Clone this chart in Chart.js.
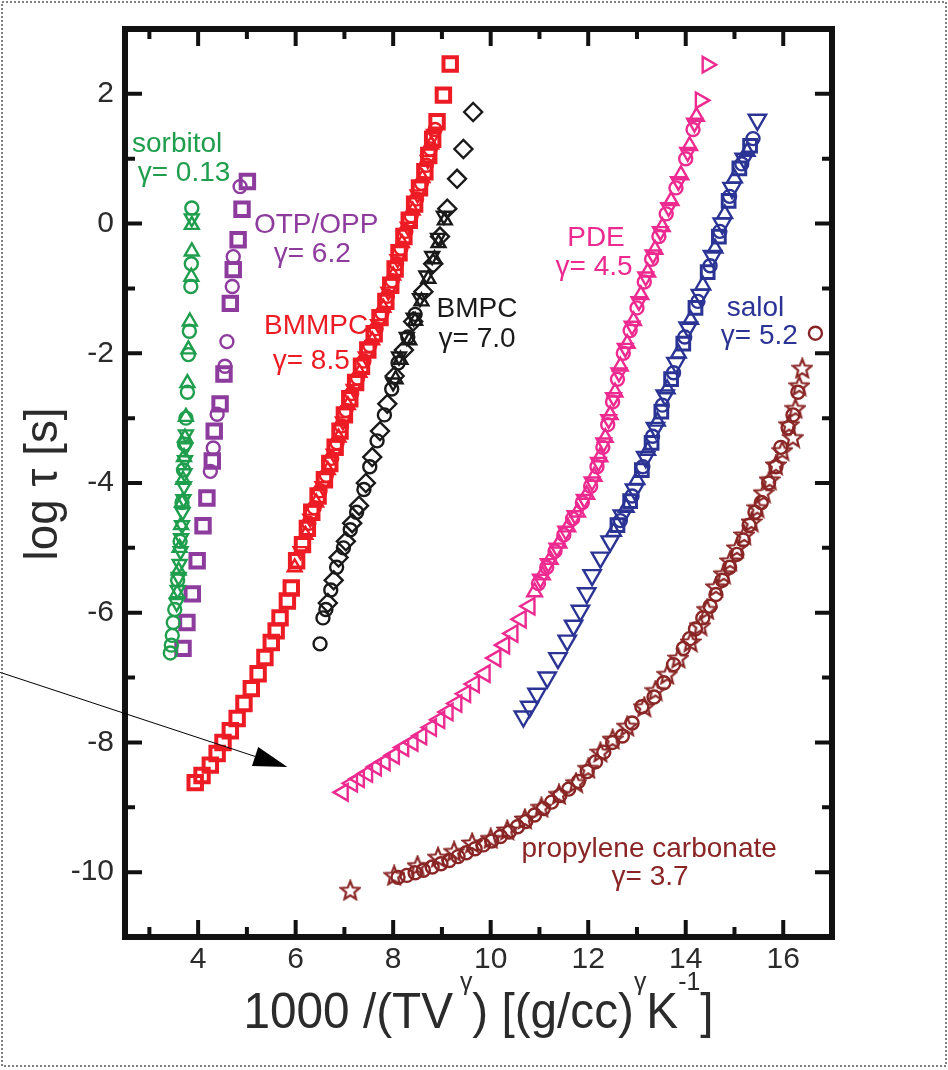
<!DOCTYPE html>
<html>
<head>
<meta charset="utf-8">
<script src="https://cdn.jsdelivr.net/npm/chart.js@4.4.0/dist/chart.umd.min.js"></script>
<style>
  html, body { margin: 0; padding: 0; background: #fff; }
  canvas { display: block; }
</style>
</head>
<body>
<canvas id="myChart" width="948" height="1070"></canvas>
<script>
// tick values
const xMajorTicks = [4, 6, 8, 10, 12, 14, 16];
const xMinorTicks = [3, 5, 7, 9, 11, 13, 15];
const yMajorTicks = [-10, -8, -6, -4, -2, 0, 2];
const yMinorTicks = [-9, -7, -5, -3, -1, 1];

// sorbitol, gamma = 0.13
const sorbitolCircles = [[3.87,0.24],[3.86,-0.62],[3.85,-0.97],[3.82,-1.66],[3.8,-2.02],[3.78,-2.6],[3.75,-3.0],[3.72,-3.4],[3.7,-3.8],[3.67,-4.3],[3.63,-4.9],[3.58,-5.5],[3.52,-5.95],[3.49,-6.15],[3.47,-6.35],[3.45,-6.5],[3.43,-6.62]];
const sorbitolUp = [[3.87,-0.02],[3.87,-0.43],[3.86,-0.82],[3.83,-1.51],[3.8,-1.94],[3.78,-2.46],[3.75,-2.98],[3.73,-3.3],[3.71,-3.6],[3.69,-3.95],[3.67,-4.3],[3.65,-4.65],[3.62,-5.0],[3.6,-5.35],[3.57,-5.7]];
const sorbitolDown = [[3.87,0.08],[3.75,-3.25],[3.74,-3.45],[3.73,-3.65],[3.72,-3.85],[3.71,-4.05],[3.7,-4.25],[3.68,-4.45],[3.67,-4.65],[3.65,-4.85],[3.64,-5.05],[3.62,-5.25],[3.6,-5.45],[3.58,-5.65],[3.56,-5.85]];

// OTP/OPP, gamma = 6.2
const otpSquares = [[5.01,0.65],[4.9,0.22],[4.82,-0.25],[4.72,-0.71],[4.66,-1.23],[4.53,-2.32],[4.45,-2.78],[4.33,-3.2],[4.29,-3.66],[4.18,-4.23],[4.1,-4.66],[3.98,-5.2],[3.88,-5.71],[3.77,-6.15],[3.69,-6.55]];
const otpCircles = [[4.86,0.57],[4.72,-0.51],[4.7,-0.97],[4.59,-1.82],[4.55,-2.2],[4.39,-2.94],[4.31,-3.46],[4.25,-3.82]];

// BMMPC, gamma = 8.5
const bmmpcSquares = [[9.17,2.46],[9.03,1.98],[8.9,1.57],[8.81,1.3],[8.73,1.05],[8.65,0.8],[8.54,0.55],[8.44,0.3],[8.33,0.05],[8.22,-0.2],[8.12,-0.45],[8.04,-0.7],[7.95,-0.95],[7.85,-1.2],[7.73,-1.45],[7.61,-1.7],[7.48,-1.95],[7.35,-2.2],[7.23,-2.45],[7.11,-2.7],[7.0,-2.95],[6.91,-3.2],[6.81,-3.45],[6.7,-3.7],[6.59,-3.95],[6.46,-4.2],[6.33,-4.45],[6.24,-4.7],[6.14,-4.95],[6.02,-5.2],[5.91,-5.62],[5.83,-5.82],[5.68,-6.08],[5.6,-6.28],[5.5,-6.46],[5.37,-6.69],[5.23,-6.94],[5.09,-7.17],[4.94,-7.4],[4.8,-7.63],[4.66,-7.82],[4.51,-8.0],[4.39,-8.17],[4.25,-8.35],[4.08,-8.51],[3.94,-8.62]];
const bmmpcCircles = [[8.86,1.45],[8.76,1.15],[8.68,0.9],[8.58,0.62],[8.48,0.38],[8.37,0.12],[8.26,-0.12],[8.16,-0.38],[8.07,-0.62],[7.98,-0.88],[7.88,-1.12],[7.77,-1.38],[7.65,-1.62],[7.52,-1.88],[7.4,-2.12],[7.27,-2.38],[7.15,-2.62],[7.03,-2.88],[6.94,-3.12],[6.85,-3.38],[6.74,-3.62],[6.63,-3.88],[6.5,-4.12],[6.38,-4.38],[6.27,-4.62]];
const bmmpcUp = [[8.78,1.22],[8.6,0.7],[8.4,0.2],[8.18,-0.3],[8.0,-0.8],[7.8,-1.3],[7.57,-1.8],[7.31,-2.3],[7.07,-2.8],[6.88,-3.3],[6.66,-3.8],[6.42,-4.3],[6.2,-4.8],[5.98,-5.3]];
const bmmpcDown = [[8.84,1.38],[8.71,0.98],[8.5,0.45],[8.3,-0.05],[8.09,-0.55],[7.9,-1.05],[7.69,-1.55],[7.44,-2.05],[7.19,-2.55],[6.97,-3.05],[6.78,-3.55],[6.55,-4.05],[6.3,-4.55],[6.1,-5.05]];

// BMPC, gamma = 7.0
const bmpcDiamonds = [[9.64,1.72],[9.44,1.15],[9.31,0.69],[9.11,0.23],[8.96,-0.2],[8.82,-0.62],[8.62,-1.05],[8.41,-1.51],[8.22,-1.95],[8.03,-2.35],[7.88,-2.78],[7.73,-3.2],[7.57,-3.6],[7.44,-4.0],[7.3,-4.35],[7.16,-4.62],[7.03,-4.9],[6.88,-5.15],[6.78,-5.5],[6.66,-5.85]];
const bmpcCircles = [[8.45,-1.4],[8.3,-1.75],[8.1,-2.15],[7.97,-2.55],[7.82,-2.95],[7.67,-3.35],[7.52,-3.75],[7.4,-4.1],[7.25,-4.45],[7.12,-4.72],[6.98,-5.0],[6.84,-5.3],[6.72,-5.65],[6.62,-5.95],[6.56,-6.08],[6.5,-6.48]];
const bmpcUp = [[9.06,0.05],[8.93,-0.3],[8.85,-0.55],[8.72,-0.85],[8.58,-1.2],[8.45,-1.5],[8.33,-1.8],[8.15,-2.1],[8.05,-2.4]];
const bmpcDown = [[9.04,0.12],[8.92,-0.22],[8.8,-0.5],[8.68,-0.8],[8.55,-1.15],[8.42,-1.45],[8.28,-1.75],[8.12,-2.05],[8.0,-2.45]];

// PDE, gamma = 4.5
const pdeRight = [[14.44,2.45],[14.3,1.9]];
const pdeCircles = [[14.15,1.45],[14.0,1.0],[13.8,0.55],[13.6,0.15],[13.45,-0.2],[13.3,-0.55],[13.15,-0.9],[13.0,-1.3],[12.86,-1.65],[12.72,-2.0],[12.6,-2.4],[12.5,-2.75],[12.4,-3.1],[12.3,-3.45],[12.18,-3.75],[12.05,-4.05],[11.88,-4.3],[11.68,-4.55],[11.5,-4.8],[11.32,-5.05],[11.15,-5.3],[10.98,-5.55]];
const pdeUp = [[14.22,1.65],[14.08,1.2],[13.9,0.75],[13.7,0.35],[13.52,-0.05],[13.37,-0.4],[13.22,-0.75],[13.08,-1.1],[12.93,-1.5],[12.8,-1.85],[12.66,-2.2],[12.55,-2.6],[12.45,-2.95],[12.35,-3.3],[12.24,-3.6],[12.12,-3.9],[11.97,-4.18],[11.78,-4.45],[11.58,-4.68],[11.4,-4.93],[11.22,-5.18],[11.06,-5.42],[10.9,-5.68]];
const pdeDown = [[14.18,1.55],[14.04,1.1],[13.85,0.65],[13.65,0.25],[13.48,-0.12],[13.33,-0.48],[13.18,-0.82],[13.04,-1.2],[12.9,-1.58],[12.76,-1.92],[12.63,-2.3],[12.52,-2.68],[12.42,-3.02],[12.32,-3.38],[12.21,-3.68],[12.08,-3.98],[11.92,-4.25],[11.73,-4.5],[11.54,-4.74],[11.36,-5.0],[11.18,-5.24],[11.02,-5.48]];
const pdeLeft = [[10.8,-5.9],[10.62,-6.1],[10.45,-6.32],[10.28,-6.5],[10.1,-6.7],[9.88,-6.94],[9.66,-7.1],[9.48,-7.25],[9.3,-7.4],[9.12,-7.53],[8.95,-7.65],[8.78,-7.77],[8.58,-7.9],[8.4,-8.0],[8.21,-8.08],[8.02,-8.2],[7.83,-8.3],[7.65,-8.38],[7.47,-8.48],[7.3,-8.56],[7.16,-8.63],[6.97,-8.77]];

// salol, gamma = 5.2
const salolDown = [[15.47,1.6],[15.2,1.0],[14.95,0.55],[14.75,0.0],[14.55,-0.5],[14.3,-1.1],[14.05,-1.6],[13.8,-2.15],[13.58,-2.65],[13.38,-3.15],[13.18,-3.6],[12.95,-4.1],[12.7,-4.5],[12.45,-4.9],[12.25,-5.15],[12.08,-5.42],[11.97,-5.7],[11.84,-5.97],[11.7,-6.2],[11.57,-6.43],[11.38,-6.7],[11.16,-7.0],[10.95,-7.25],[10.8,-7.45],[10.67,-7.6]];
const salolSquares = [[15.32,1.2],[15.1,0.85],[14.88,0.35],[14.68,-0.2],[14.45,-0.75],[14.2,-1.3],[13.95,-1.85],[13.7,-2.4],[13.5,-2.9],[13.3,-3.38],[13.1,-3.8],[12.86,-4.28],[12.6,-4.65]];
const salolCircles = [[15.38,1.31],[15.15,0.92],[14.9,0.42],[14.7,-0.12],[14.5,-0.65],[14.25,-1.2],[13.98,-1.75],[13.75,-2.3],[13.52,-2.8],[13.32,-3.28],[13.12,-3.75],[12.9,-4.2],[12.66,-4.58]];
const salolUp = [[15.26,1.11],[15.0,0.7],[14.8,0.15],[14.6,-0.38],[14.35,-0.95],[14.1,-1.48],[13.85,-2.0],[13.62,-2.55],[13.42,-3.05],[13.22,-3.5],[13.0,-3.95],[12.78,-4.38],[12.52,-4.75]];

// propylene carbonate, gamma = 3.7
const pcCircles = [[16.66,-1.69],[16.3,-2.6],[16.2,-2.95],[16.1,-3.15],[15.95,-3.45],[15.85,-3.75],[15.7,-4.0],[15.55,-4.3],[15.42,-4.45],[15.3,-4.65],[15.18,-4.88],[15.05,-5.1],[14.9,-5.3],[14.75,-5.5],[14.62,-5.72],[14.5,-5.9],[14.35,-6.08],[14.2,-6.25],[14.08,-6.4],[13.95,-6.55],[13.75,-6.8],[13.55,-7.08],[13.35,-7.3],[13.1,-7.45],[12.9,-7.7],[12.7,-7.9],[12.5,-8.0],[12.32,-8.15],[12.15,-8.3],[11.98,-8.45],[11.8,-8.6],[11.6,-8.72],[11.42,-8.82],[11.25,-8.92],[11.08,-9.02],[10.9,-9.12],[10.72,-9.22],[10.55,-9.3],[10.38,-9.38],[10.2,-9.45],[10.02,-9.52],[9.85,-9.58],[9.68,-9.64],[9.5,-9.7],[9.33,-9.76],[9.15,-9.82],[8.98,-9.87],[8.8,-9.92],[8.62,-9.97],[8.45,-10.01],[8.28,-10.05],[8.1,-10.08]];
const pcStars = [[16.39,-2.23],[16.33,-2.5],[16.25,-2.85],[16.2,-3.3],[16.12,-3.1],[15.98,-3.5],[15.85,-3.72],[15.72,-3.95],[15.6,-4.15],[15.47,-4.38],[15.35,-4.6],[15.2,-4.8],[15.05,-5.0],[14.91,-5.2],[14.78,-5.4],[14.62,-5.6],[14.44,-5.95],[14.3,-6.2],[14.1,-6.45],[13.85,-6.7],[13.62,-6.95],[13.38,-7.2],[13.15,-7.45],[12.8,-7.75],[12.5,-7.95],[12.25,-8.15],[12.0,-8.4],[11.75,-8.62],[11.4,-8.8],[11.04,-9.0],[10.7,-9.18],[10.34,-9.35],[10.0,-9.48],[9.62,-9.55],[9.25,-9.68],[8.92,-9.77],[8.5,-9.9],[8.02,-10.05],[7.12,-10.28]];

const green = '#1f9e4d', purple = '#8e3b9e', red = '#ed1c24', black = '#1a1a1a';
const magenta = '#ec2a90', blue = '#2b3494', brown = '#8a2525';

// annotation texts [text, x, y, colour]
const labelTexts = [
  ['sorbitol', 3.57, 1.23, green], ['γ= 0.13', 3.71, 0.77, green],
  ['OTP/OPP', 6.42, -0.02, purple], ['γ= 6.2', 6.34, -0.48, purple],
  ['BMMPC', 6.42, -1.58, red], ['γ= 8.5', 6.32, -2.12, red],
  ['BMPC', 9.72, -1.32, black], ['γ= 7.0', 9.72, -1.78, black],
  ['PDE', 12.16, -0.22, magenta], ['γ= 4.5', 12.12, -0.68, magenta],
  ['salol', 15.43, -1.31, blue], ['γ= 5.2', 15.51, -1.74, blue],
  ['propylene carbonate', 13.25, -9.65, brown], ['γ= 3.7', 13.27, -10.08, brown]
];

// arrow from outside the frame to a point in the plot
const arrowFrom = [-0.06, -6.92];
const arrowTo = [5.83, -8.38];

const FONT = '"Liberation Sans", Arial, Helvetica, sans-serif';

function starImage(color) {
  const c = document.createElement('canvas');
  c.width = 22; c.height = 22;
  const g = c.getContext('2d');
  g.strokeStyle = color; g.lineWidth = 2.2; g.lineJoin = 'miter';
  g.beginPath();
  for (let i = 0; i < 10; i++) {
    const r = i % 2 ? 4.3 : 9.8;
    const a = -Math.PI / 2 + i * Math.PI / 5;
    const px = 11 + r * Math.cos(a), py = 11.8 + r * Math.sin(a);
    if (i) g.lineTo(px, py); else g.moveTo(px, py);
  }
  g.closePath(); g.stroke();
  return c;
}

function series(points, color, style, radius, width, rot) {
  return {
    data: points.map(p => ({x: p[0], y: p[1]})),
    pointStyle: style,
    pointRadius: radius,
    pointBorderWidth: width,
    pointRotation: rot || 0,
    borderColor: color,
    backgroundColor: 'rgba(0,0,0,0)',
    showLine: false
  };
}

const datasets = [
  series(sorbitolCircles, green, 'circle', 6.5, 2.4),
  series(sorbitolUp, green, 'triangle', 8, 2.4),
  series(sorbitolDown, green, 'triangle', 8, 2.4, 180),
  series(otpSquares, purple, 'rect', 9.5, 4),
  series(otpCircles, purple, 'circle', 6.5, 2.4),
  series(bmmpcSquares, red, 'rect', 9.5, 4),
  series(bmmpcCircles, red, 'circle', 6.5, 2.4),
  series(bmmpcUp, red, 'triangle', 8, 2.4),
  series(bmmpcDown, red, 'triangle', 8, 2.4, 180),
  series(bmpcDiamonds, black, 'rectRot', 9, 2.4),
  series(bmpcCircles, black, 'circle', 6.5, 2.4),
  series(bmpcUp, black, 'triangle', 8, 2.4),
  series(bmpcDown, black, 'triangle', 8, 2.4, 180),
  series(pdeRight, magenta, 'triangle', 9, 2.4, 90),
  series(pdeCircles, magenta, 'circle', 6.5, 2.4),
  series(pdeUp, magenta, 'triangle', 8.5, 2.4),
  series(pdeDown, magenta, 'triangle', 8.5, 2.4, 180),
  series(pdeLeft, magenta, 'triangle', 9.5, 2.4, -90),
  series(salolDown, blue, 'triangle', 10, 2.4, 180),
  series(salolSquares, blue, 'rect', 9, 3),
  series(salolCircles, blue, 'circle', 6.5, 2.4),
  series(salolUp, blue, 'triangle', 8.5, 2.4),
  series(pcCircles, brown, 'circle', 6.5, 2.4),
  series(pcStars, brown, starImage(brown), 10, 2)
];

const decor = {
  id: 'decor',
  afterDraw(chart) {
    const {ctx, chartArea: a, scales: {x, y}} = chart;
    ctx.save();

    // frame
    ctx.strokeStyle = '#111';
    ctx.lineWidth = 6;
    ctx.strokeRect(a.left, a.top, a.right - a.left, a.bottom - a.top);

    // inward ticks on all four sides
    ctx.lineWidth = 4;
    ctx.beginPath();
    const xt = (vals, len) => vals.forEach(v => {
      const px = x.getPixelForValue(v);
      ctx.moveTo(px, a.bottom); ctx.lineTo(px, a.bottom - len);
      ctx.moveTo(px, a.top); ctx.lineTo(px, a.top + len);
    });
    const yt = (vals, len) => vals.forEach(v => {
      const py = y.getPixelForValue(v);
      ctx.moveTo(a.left, py); ctx.lineTo(a.left + len, py);
      ctx.moveTo(a.right, py); ctx.lineTo(a.right - len, py);
    });
    xt(xMajorTicks, 17); xt(xMinorTicks, 10);
    yt(yMajorTicks, 17); yt(yMinorTicks, 10);
    ctx.stroke();

    // series labels
    ctx.font = '28px ' + FONT;
    ctx.textAlign = 'center';
    ctx.textBaseline = 'middle';
    labelTexts.forEach(([t, lx, ly, c]) => {
      ctx.fillStyle = c;
      ctx.fillText(t, x.getPixelForValue(lx), y.getPixelForValue(ly));
    });

    // y axis title
    ctx.fillStyle = '#2b2b2b';
    ctx.save();
    ctx.translate(44, (a.top + a.bottom) / 2 + 1);
    ctx.rotate(-Math.PI / 2);
    ctx.font = '46px ' + FONT;
    const yt0 = 'log τ [s]';
    const sy = 153 / ctx.measureText(yt0).width;
    ctx.scale(sy, 1);
    ctx.textAlign = 'center';
    ctx.textBaseline = 'middle';
    ctx.fillText(yt0, 0, 0);
    ctx.restore();

    // x axis title with superscripts
    const parts = [['1000 /(TV', 0], [' γ', 1], [') [(g/cc)', 0], ['γ', 1], ['K', 0], ['-1', 1], [']', 0]];
    const big = '50px ' + FONT, small = '26px ' + FONT;
    let total = 0;
    parts.forEach(([t, s]) => { ctx.font = s ? small : big; total += ctx.measureText(t).width; });
    const sx = 470 / total;
    ctx.save();
    ctx.translate((a.left + a.right) / 2 - (total * sx) / 2, 1028);
    ctx.scale(sx, 1);
    ctx.textAlign = 'left';
    ctx.textBaseline = 'alphabetic';
    let cx = 0;
    parts.forEach(([t, s]) => {
      ctx.font = s ? small : big;
      ctx.fillText(t, cx, s ? -38 : 0);
      cx += ctx.measureText(t).width;
    });
    ctx.restore();

    // arrow
    const x0 = x.getPixelForValue(arrowFrom[0]), y0 = y.getPixelForValue(arrowFrom[1]);
    const x1 = x.getPixelForValue(arrowTo[0]), y1 = y.getPixelForValue(arrowTo[1]);
    const ang = Math.atan2(y1 - y0, x1 - x0);
    const hl = 34, hw = 10;
    const bx = x1 - hl * Math.cos(ang), by = y1 - hl * Math.sin(ang);
    ctx.strokeStyle = '#000';
    ctx.lineWidth = 1;
    ctx.beginPath();
    ctx.moveTo(x0, y0); ctx.lineTo(bx, by);
    ctx.stroke();
    ctx.fillStyle = '#000';
    ctx.beginPath();
    ctx.moveTo(x1, y1);
    ctx.lineTo(bx + hw * Math.sin(ang), by - hw * Math.cos(ang));
    ctx.lineTo(bx - hw * Math.sin(ang), by + hw * Math.cos(ang));
    ctx.closePath();
    ctx.fill();

    // dotted figure border
    ctx.strokeStyle = '#555';
    ctx.lineWidth = 1.5;
    ctx.setLineDash([2, 2]);
    ctx.strokeRect(2, 2, 944, 1064);
    ctx.restore();
  }
};

new Chart(document.getElementById('myChart').getContext('2d'), {
  type: 'scatter',
  data: { datasets: datasets },
  options: {
    responsive: false,
    animation: false,
    layout: { padding: { left: 0, right: 116, top: 27, bottom: 0 } },
    plugins: { legend: { display: false }, tooltip: { enabled: false } },
    scales: {
      x: {
        type: 'linear', min: 2.5, max: 17,
        afterBuildTicks: s => { s.ticks = xMajorTicks.map(v => ({ value: v })); },
        afterFit: s => { s.height = 133; },
        grid: { display: false, drawTicks: false },
        border: { display: false },
        ticks: { font: { family: FONT, size: 30 }, color: '#2b2b2b', padding: 5, maxRotation: 0 }
      },
      y: {
        type: 'linear', min: -11, max: 3,
        afterBuildTicks: s => { s.ticks = yMajorTicks.map(v => ({ value: v })); },
        afterFit: s => { s.width = 125; },
        grid: { display: false, drawTicks: false },
        border: { display: false },
        ticks: { font: { family: FONT, size: 30 }, color: '#2b2b2b', padding: 11 }
      }
    }
  },
  plugins: [decor]
});
</script>
</body>
</html>
